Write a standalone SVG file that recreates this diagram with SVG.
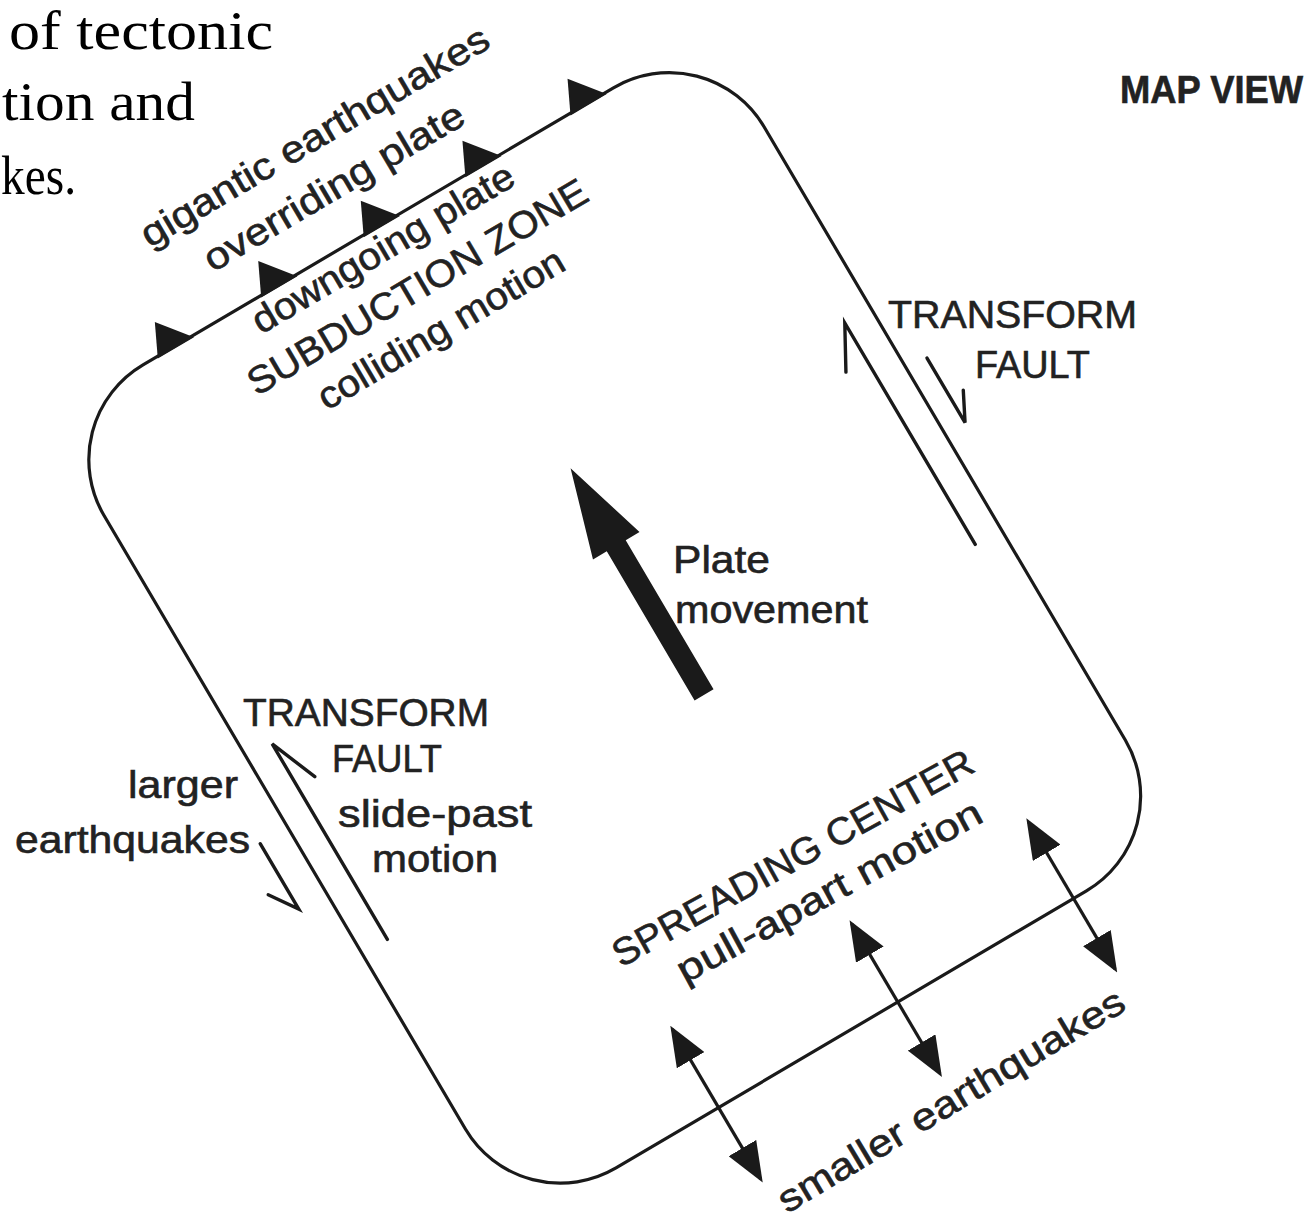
<svg xmlns="http://www.w3.org/2000/svg" width="1309" height="1225" viewBox="0 0 1309 1225">
<style>
.ln{fill:none;stroke:#1a1a1a;stroke-width:3.2}
.hf{fill:none;stroke:#1a1a1a;stroke-width:3.4;stroke-linejoin:miter;stroke-linecap:round}
.dbl{fill:none;stroke:#1a1a1a;stroke-width:3.2;marker-start:url(#ah);marker-end:url(#ah)}
.t{font-family:"Liberation Sans",Arial,Helvetica,sans-serif;font-size:38px;fill:#222;stroke:#222;stroke-width:0.6}
.cap{font-family:"Liberation Serif","Times New Roman",serif;font-size:54px;fill:#000}
.tri{fill:#1a1a1a}
.big{fill:#1a1a1a}
</style>
<defs>
<marker id="ah" viewBox="0 0 40 32" refX="36" refY="16" markerWidth="40" markerHeight="32" markerUnits="userSpaceOnUse" orient="auto-start-reverse">
<path d="M0,0 L40,16 L0,32 z" fill="#1a1a1a"/>
</marker>
</defs>
<rect width="1309" height="1225" fill="#fff"/>

<g id="caption">
<text class="cap" x="9" y="49" textLength="264" lengthAdjust="spacingAndGlyphs">of tectonic</text>
<text class="cap" x="2" y="120" textLength="193" lengthAdjust="spacingAndGlyphs">tion and</text>
<text class="cap" x="1" y="194" textLength="75" lengthAdjust="spacingAndGlyphs">kes.</text>
</g>

<g id="map-view">
<text class="t" x="1120" y="103" font-size="36" font-weight="bold" textLength="183" lengthAdjust="spacingAndGlyphs">MAP VIEW</text>
</g>

<g id="plate" transform="rotate(-30.5)">
<rect x="-172" y="387" width="766" height="932" rx="110" class="ln"/>
<g id="subduction-teeth">
<polygon class="tri" points="-46,389 -4,389 -30,356"/>
<polygon class="tri" points="74,389 116,389 90,356"/>
<polygon class="tri" points="193,389 235,389 209,356"/>
<polygon class="tri" points="311,389 353,389 327,356"/>
<polygon class="tri" points="433,389 475,389 449,356"/>
</g>
</g>

<g id="subduction-zone" transform="rotate(-30.5)">
<text class="t" x="3" y="290" textLength="398" lengthAdjust="spacingAndGlyphs">gigantic earthquakes</text>
<text class="t" x="45" y="343" textLength="296" lengthAdjust="spacingAndGlyphs">overriding plate</text>
<text class="t" x="55" y="421" textLength="298" lengthAdjust="spacingAndGlyphs">downgoing plate</text>
<text class="t" x="20" y="472" textLength="388" lengthAdjust="spacingAndGlyphs">SUBDUCTION ZONE</text>
<text class="t" x="73" y="520" textLength="280" lengthAdjust="spacingAndGlyphs">colliding motion</text>
</g>

<g id="plate-movement">
<polygon class="big" transform="rotate(-30.5)" points="254,693 281,783 265,783 265,956 243,956 243,783 227,783"/>
<text class="t" x="673" y="573" textLength="97" lengthAdjust="spacingAndGlyphs">Plate</text>
<text class="t" x="675" y="623" textLength="193" lengthAdjust="spacingAndGlyphs">movement</text>
</g>

<g id="transform-right">
<text class="t" x="888" y="328" textLength="249" lengthAdjust="spacingAndGlyphs">TRANSFORM</text>
<text class="t" x="975" y="378" textLength="115" lengthAdjust="spacingAndGlyphs">FAULT</text>
</g>

<g id="transform-left">
<text class="t" x="243" y="726" textLength="246" lengthAdjust="spacingAndGlyphs">TRANSFORM</text>
<text class="t" x="332" y="772" textLength="110" lengthAdjust="spacingAndGlyphs">FAULT</text>
<text class="t" x="128" y="798" textLength="110" lengthAdjust="spacingAndGlyphs">larger</text>
<text class="t" x="15" y="853" textLength="235" lengthAdjust="spacingAndGlyphs">earthquakes</text>
<text class="t" x="338" y="827" textLength="194" lengthAdjust="spacingAndGlyphs">slide-past</text>
<text class="t" x="372" y="872" textLength="126" lengthAdjust="spacingAndGlyphs">motion</text>
</g>

<g id="spreading-center">
<text class="t" transform="translate(621,968) rotate(-29)" textLength="407" lengthAdjust="spacingAndGlyphs">SPREADING CENTER</text>
<text class="t" transform="translate(685,984) rotate(-28.5)" textLength="342" lengthAdjust="spacingAndGlyphs">pull-apart motion</text>
<text class="t" transform="translate(787,1214) rotate(-31)" textLength="398" lengthAdjust="spacingAndGlyphs">smaller earthquakes</text>
</g>

<g id="connectors" transform="rotate(-30.5)">
<path class="hf" d="M564,964 L564,707 L540,750"/>
<path class="hf" d="M617,779 L617,854 L632,825"/>
<path class="hf" d="M-143,1006 L-143,779 L-123,829"/>
<path class="hf" d="M-204,859 L-204,935 L-223,907"/>
<line class="dbl" x1="57" y1="1228" x2="57" y2="1402"/>
<line class="dbl" x1="265" y1="1228" x2="265" y2="1402"/>
<line class="dbl" x1="469" y1="1230" x2="469" y2="1401"/>
</g>
</svg>
